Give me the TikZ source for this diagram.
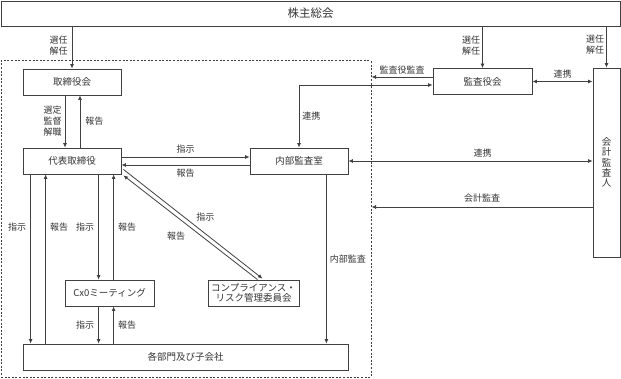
\documentclass[tikz,border=0pt]{standalone}
\usepackage{fontspec}
\setmainfont{Noto Sans CJK JP}
\usetikzlibrary{arrows.meta,calc}
\definecolor{ln}{HTML}{404040}
\definecolor{tx}{HTML}{333333}
\tikzset{
  box/.style={draw=ln,line width=0.8pt,inner sep=0pt,align=center,text=tx,
    font=\fontsize{9.5}{11.5}\selectfont},
  frame/.style={draw=ln,line width=1pt,dash pattern=on 2pt off 1.6pt,inner sep=0pt},
  arr/.style={draw=ln,line width=0.8pt,-{Latex[length=4.5pt,width=4pt]}},
  arrs/.style={draw=ln,line width=0.8pt,{Latex[length=4.5pt,width=4pt]}-{Latex[length=4.5pt,width=4pt]}},
  lbl/.style={inner sep=0pt,text=tx,font=\fontsize{9}{11}\selectfont,align=center}
}
\begin{document}
\begin{tikzpicture}[x=1pt,y=-1pt]
\useasboundingbox (0,0) rectangle (621,379);
% frame
\node[frame,minimum width=370,minimum height=316] (frame) at (186,219) {};
% boxes
\node[box,minimum width=619,minimum height=25,font=\fontsize{11.5}{13}\selectfont] (sh) at (310.5,13.5) {株主総会};
\node[box,minimum width=98,minimum height=26] (tori) at (72,82) {取締役会};
\node[box,minimum width=99,minimum height=26] (kansa) at (482.5,81.5) {監査役会};
\node[box,minimum width=27,minimum height=189,font=\fontsize{9.5}{10.2}\selectfont] (kaikei) at (606.5,162.5) {会\\計\\監\\査\\人};
\node[box,minimum width=98,minimum height=26] (daihyo) at (72,161) {代表取締役};
\node[box,minimum width=98,minimum height=26] (naibu) at (299,161) {内部監査室};
\node[box,minimum width=89,minimum height=26] (cxo) at (109.5,293) {Cx0ミーティング};
\node[box,minimum width=91,minimum height=26,font=\fontsize{9.5}{10.5}\selectfont] (comp) at (253.5,293) {コンプライアンス・\\リスク管理委員会};
\node[box,minimum width=325,minimum height=26] (kaku) at (185.5,357) {各部門及び子会社};

% shareholders arrows
\draw[arr] (sh.south -| tori.north) -- (tori.north) node[lbl,midway,left=4pt,yshift=2pt]{選任\\解任};
\draw[arr] (sh.south -| kansa.north) -- (kansa.north) node[lbl,midway,left=2pt,yshift=2pt]{選任\\解任};
\draw[arr] (sh.south -| kaikei.north) -- (kaikei.north) node[lbl,midway,left=2pt,yshift=2pt]{選任\\解任};

% board <-> representative
\coordinate (t1) at ([xshift=-7pt]tori.south);
\coordinate (t2) at ([xshift=8pt]tori.south);
\draw[arr] (t1) -- (t1 |- daihyo.north) node[lbl,midway,left=3pt]{選定\\監督\\解職};
\draw[arr] (t2 |- daihyo.north) -- (t2) node[lbl,midway,right=5pt]{報告};

% representative <-> internal audit
\draw[arr] ([yshift=4pt]daihyo.east) -- ([yshift=4pt]naibu.west) node[lbl,midway,above=3.5pt]{指示};
\draw[arr] ([yshift=-4pt]naibu.west) -- ([yshift=-4pt]daihyo.east) node[lbl,midway,below=3.5pt]{報告};

% internal audit <-> accounting auditor
\draw[arrs] (naibu.east) -- (naibu.east -| kaikei.west) node[lbl,pos=0.55,above=3.5pt]{連携};
\coordinate (k1) at ([yshift=-44.5pt]kaikei.west);
\draw[arr] (k1) -- (k1 -| frame.east) node[lbl,midway,above=4pt]{会計監査};

% audit board
\coordinate (a1) at ([yshift=4.5pt]kansa.west);
\draw[arr] (a1) -- (a1 -| frame.east) node[lbl,midway,above=2pt]{監査役監査};
\draw[arrs] (naibu.north) |- ([yshift=-3.5pt]kansa.west) node[lbl,pos=0.25,right=3pt]{連携};
\draw[arrs] (kansa.east) -- (kansa.east -| kaikei.west) node[lbl,midway,above=2.5pt]{連携};

% representative -> departments / CxO
\coordinate (d1) at ([xshift=8pt]daihyo.south west);
\coordinate (d2) at ([xshift=23pt]daihyo.south west);
\coordinate (d3) at ([xshift=76pt]daihyo.south west);
\coordinate (d4) at ([xshift=91pt]daihyo.south west);
\draw[arr] (d1) -- (d1 |- kaku.north) node[lbl,pos=0.31,left=4pt]{指示};
\draw[arr] (d2 |- kaku.north) -- (d2) node[lbl,pos=0.69,right=4pt]{報告};
\draw[arr] (d3) -- (d3 |- cxo.north) node[lbl,midway,left=4pt]{指示};
\draw[arr] (d4 |- cxo.north) -- (d4) node[lbl,midway,right=4pt]{報告};
\draw[arr] (d3 |- cxo.south) -- (d3 |- kaku.north) node[lbl,midway,left=4pt]{指示};
\draw[arr] (d4 |- kaku.north) -- (d4 |- cxo.south) node[lbl,midway,right=4pt]{報告};

% internal audit -> departments
\coordinate (n1) at ([xshift=-22pt]naibu.south east);
\draw[arr] (n1) -- (n1 |- kaku.north) node[lbl,midway,right=3pt]{内部監査};

% representative <-> compliance committee
\draw[arr] ([shift={(2,-5)}]daihyo.south east) -- ([shift={(9,-1)}]comp.north)
  node[lbl,pos=0.5,anchor=south west,xshift=3pt,yshift=2pt]{指示};
\draw[arr] ([shift={(4,0)}]comp.north) -- ([shift={(2,1)}]daihyo.south east)
  node[lbl,pos=0.5,anchor=north east,xshift=-5pt,yshift=-4pt]{報告};
\end{tikzpicture}
\end{document}
